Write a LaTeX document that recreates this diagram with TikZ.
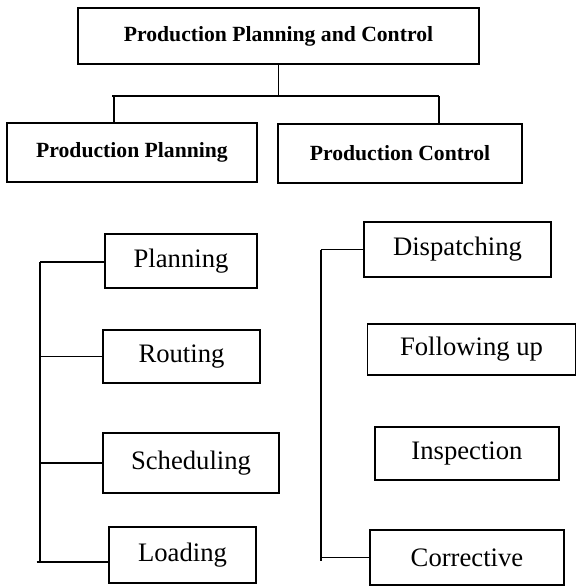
\documentclass[tikz,border=0pt]{standalone}
\usepackage{fontspec}
\setmainfont{Liberation Serif}
\usetikzlibrary{positioning}

\begin{document}
\begin{tikzpicture} [
                x=0.6pt, y=-0.6pt,
                line width=0.8pt,
                stepnode/.style={
                    rectangle,
                    draw,
                    inner sep=0pt,
                    font=\fontsize{16}{19}\selectfont
                },
                headnode/.style={
                    stepnode,
                    font=\fontsize{13}{16}\selectfont\bfseries
                }
            ]

                \useasboundingbox (0,0) rectangle (577,586);

                \node[headnode, minimum width=240.6pt, minimum height=33.6pt]   (ppc)           at (278.5,36)   {Production Planning and Control};
                \node[headnode, minimum width=150pt,   minimum height=35.4pt]   (planhead)      at (132,152.5)  {Production Planning};
                \node[headnode, minimum width=146.4pt, minimum height=35.4pt]   (ctrlhead)      at (400,153.5)  {Production Control};

                \node[stepnode, minimum width=91.2pt,  minimum height=32.4pt]   (planning)      at (181,261)    {Planning};
                \node[stepnode, minimum width=94.2pt,  minimum height=31.8pt]   (routing)       at (181.5,356.5) {Routing};
                \node[stepnode, minimum width=105.6pt, minimum height=36pt]     (scheduling)    at (191,463)    {Scheduling};
                \node[stepnode, minimum width=88.2pt,  minimum height=33.6pt]   (loading)       at (182.5,555)  {Loading};

                \node[stepnode, minimum width=112.2pt, minimum height=33pt]     (dispatching)   at (457.5,249.5) {Dispatching};
                \node[stepnode, minimum width=124.8pt, minimum height=30.6pt]   (followup)      at (471.5,349.5) {Following up};
                \node[stepnode, minimum width=110.4pt, minimum height=31.8pt]   (inspection)    at (467,453.5)  {Inspection};
                \node[stepnode, minimum width=116.4pt, minimum height=33pt]     (corrective)    at (467,557.5)  {Corrective};

                \coordinate (busleft)   at (112,96);
                \coordinate (busright)  at (439,96);
                \coordinate (plandrop)  at (114,96);
                \coordinate (lspinetop) at (40,262);
                \coordinate (lspinebot) at (40,562);
                \coordinate (rspinetop) at (321,249.5);
                \coordinate (rspinebot) at (321,561);

                % upper tree
                \draw (ppc.south) -- (ppc.south |- busleft);
                \draw (busleft) -- (busright);
                \draw (plandrop) -- (plandrop |- planhead.north);
                \draw (busright) -- (busright |- ctrlhead.north);

                % planning steps
                \draw (lspinetop) -- (lspinebot);
                \draw (lspinetop) -- (lspinetop -| planning.west);
                \draw (routing.west) -- (routing.west -| lspinetop);
                \draw (scheduling.west) -- (scheduling.west -| lspinetop);
                \draw ([xshift=-2pt]lspinebot) -- (lspinebot -| loading.west);

                % control steps
                \draw (rspinetop) -- (rspinebot);
                \draw (dispatching.west) -- (rspinetop);
                \draw (corrective.west) -- (corrective.west -| rspinetop);

            \end{tikzpicture}
\end{document}
